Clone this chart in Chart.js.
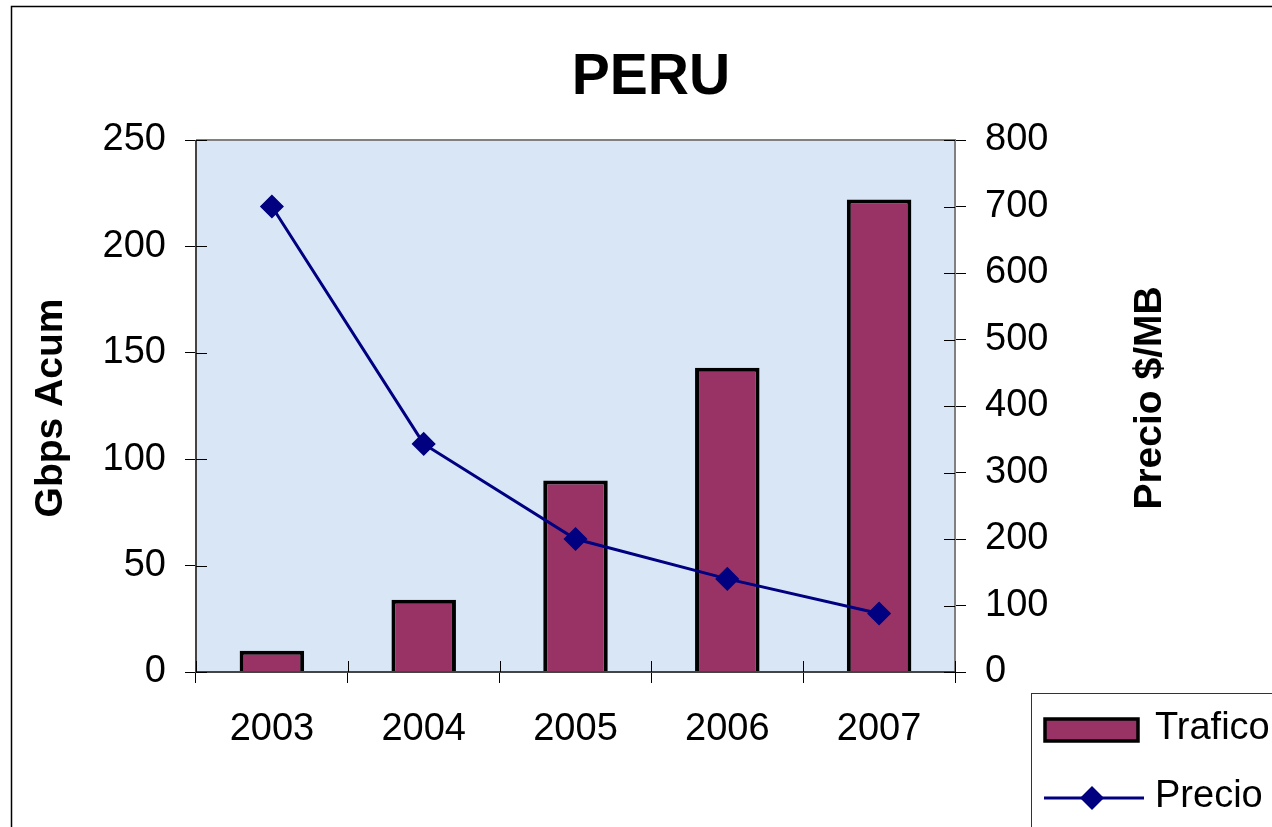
<!DOCTYPE html>
<html>
<head>
<meta charset="utf-8">
<title>PERU</title>
<script src="https://cdn.jsdelivr.net/npm/chart.js@4"></script>
<style>
  body { margin: 0; background: #fff; }
  canvas { display: block; }
</style>
</head>
<body>
<canvas id="myChart" width="1272" height="827"></canvas>
<script>
// Data
const years = ['2003', '2004', '2005', '2006', '2007'];
const trafico = [10, 34, 90, 143, 222];
const precio = [700, 343, 200, 140, 88];
const seriesNames = ['Trafico', 'Precio'];
const leftTitle = 'Gbps Acum';
const rightTitle = 'Precio $/MB';

const FONT = '"Liberation Sans", Arial, sans-serif';
const barColor = '#993366';
const lineColor = '#000080';

// background, frame, cross ticks, axis titles, legend
const decor = {
  id: 'decor',
  beforeDraw(chart) {
    const ctx = chart.ctx;
    const a = chart.chartArea;
    ctx.save();
    ctx.fillStyle = '#fff';
    ctx.fillRect(0, 0, chart.width, chart.height);
    ctx.fillStyle = '#d8e6f5';
    ctx.fillRect(a.left, a.top, a.right - a.left, a.bottom - a.top);
    // outer frame
    ctx.strokeStyle = '#000';
    ctx.lineWidth = 1.5;
    ctx.strokeRect(11.5, 6.5, 1400, 1000);
    ctx.restore();
  },
  afterDatasetsDraw(chart) {
    const ctx = chart.ctx;
    const a = chart.chartArea;
    ctx.save();
    ctx.strokeStyle = '#808080';
    ctx.lineWidth = 2;
    ctx.beginPath();
    ctx.moveTo(a.left, a.top);
    ctx.lineTo(a.right, a.top);
    ctx.lineTo(a.right, a.bottom);
    ctx.stroke();
    ctx.strokeStyle = '#444';
    ctx.beginPath();
    ctx.moveTo(a.left, a.top);
    ctx.lineTo(a.left, a.bottom);
    ctx.lineTo(a.right, a.bottom);
    ctx.stroke();

    // inner halves of the cross ticks
    ctx.strokeStyle = '#000';
    ctx.lineWidth = 1;
    ctx.beginPath();
    const yl = chart.scales.y;
    yl.ticks.forEach((t, i) => {
      const py = Math.round(yl.getPixelForTick(i)) + 0.5;
      ctx.moveTo(a.left, py); ctx.lineTo(a.left + 11, py);
    });
    const yr = chart.scales.y2;
    yr.ticks.forEach((t, i) => {
      const py = Math.round(yr.getPixelForTick(i)) + 0.5;
      ctx.moveTo(a.right - 11, py); ctx.lineTo(a.right, py);
    });
    const step = (a.right - a.left) / years.length;
    for (let i = 0; i <= years.length; i++) {
      const px = Math.round(a.left + i * step) + 0.5;
      ctx.moveTo(px, a.bottom - 11); ctx.lineTo(px, a.bottom);
    }
    ctx.stroke();

    // axis titles, both read bottom to top
    ctx.fillStyle = '#000';
    ctx.font = 'bold 39px ' + FONT;
    ctx.textAlign = 'center';
    ctx.textBaseline = 'alphabetic';
    ctx.save();
    ctx.translate(62, 408);
    ctx.rotate(-Math.PI / 2);
    ctx.fillText(leftTitle, 0, 0);
    ctx.restore();
    ctx.save();
    ctx.translate(1161, 398);
    ctx.rotate(-Math.PI / 2);
    ctx.fillText(rightTitle, 0, 0);
    ctx.restore();

    // legend
    ctx.strokeStyle = '#333';
    ctx.lineWidth = 1;
    ctx.strokeRect(1031.5, 693.5, 400, 300);
    ctx.fillStyle = barColor;
    ctx.fillRect(1045, 719, 93, 22);
    ctx.strokeStyle = '#000';
    ctx.lineWidth = 3.5;
    ctx.strokeRect(1045, 719, 93, 22);
    ctx.strokeStyle = lineColor;
    ctx.lineWidth = 3;
    ctx.beginPath();
    ctx.moveTo(1044, 798); ctx.lineTo(1144, 798);
    ctx.stroke();
    ctx.fillStyle = lineColor;
    ctx.beginPath();
    ctx.moveTo(1092, 786); ctx.lineTo(1104, 798);
    ctx.lineTo(1092, 810); ctx.lineTo(1080, 798);
    ctx.closePath();
    ctx.fill();
    ctx.fillStyle = '#000';
    ctx.font = '38px ' + FONT;
    ctx.textAlign = 'left';
    ctx.textBaseline = 'middle';
    ctx.fillText(seriesNames[0], 1155, 729);
    ctx.fillText(seriesNames[1], 1155, 797);
    ctx.restore();
  }
};

const ctx = document.getElementById('myChart');

const myChart = new Chart(ctx, {
  type: 'bar',
  data: {
    labels: years,
    datasets: [{
      type: 'line',
      label: seriesNames[1],
      data: precio,
      yAxisID: 'y2',
      borderColor: lineColor,
      backgroundColor: lineColor,
      borderWidth: 3,
      pointStyle: 'rectRot',
      pointRadius: 11,
      pointBorderWidth: 1.5,
      pointBackgroundColor: lineColor,
      tension: 0,
      order: 1
    }, {
      label: seriesNames[0],
      data: trafico,
      yAxisID: 'y',
      backgroundColor: barColor,
      borderColor: '#000',
      borderWidth: 4,
      categoryPercentage: 1,
      barPercentage: 0.425,
      order: 2
    }]
  },
  options: {
    responsive: false,
    animation: false,
    devicePixelRatio: 1,
    layout: { padding: { left: 30, right: 0, top: 0, bottom: 0 } },
    plugins: {
      legend: { display: false },
      tooltip: { enabled: false },
      title: {
        display: true,
        text: 'PERU',
        color: '#000',
        font: { family: FONT, size: 57, weight: 'bold', lineHeight: 1.2 },
        padding: { top: 44, bottom: 27.6 }
      }
    },
    scales: {
      x: {
        grid: { display: true, drawOnChartArea: false, tickLength: 11, color: '#000', offset: true },
        border: { display: false },
        ticks: { color: '#000', padding: 24, font: { family: FONT, size: 38 } },
        afterFit(scale) { scale.height = 155; }
      },
      y: {
        position: 'left',
        min: 0,
        max: 250,
        grid: { drawOnChartArea: false, tickLength: 11, color: '#000' },
        border: { display: false },
        ticks: { stepSize: 50, color: '#000', padding: 19, font: { family: FONT, size: 38 } },
        afterFit(scale) { scale.width = 166; }
      },
      y2: {
        position: 'right',
        min: 0,
        max: 800,
        grid: { drawOnChartArea: false, tickLength: 11, color: '#000' },
        border: { display: false },
        ticks: { stepSize: 100, color: '#000', padding: 19, font: { family: FONT, size: 38 } },
        afterFit(scale) { scale.width = 317; }
      }
    }
  },
  plugins: [decor]
});
</script>
</body>
</html>
